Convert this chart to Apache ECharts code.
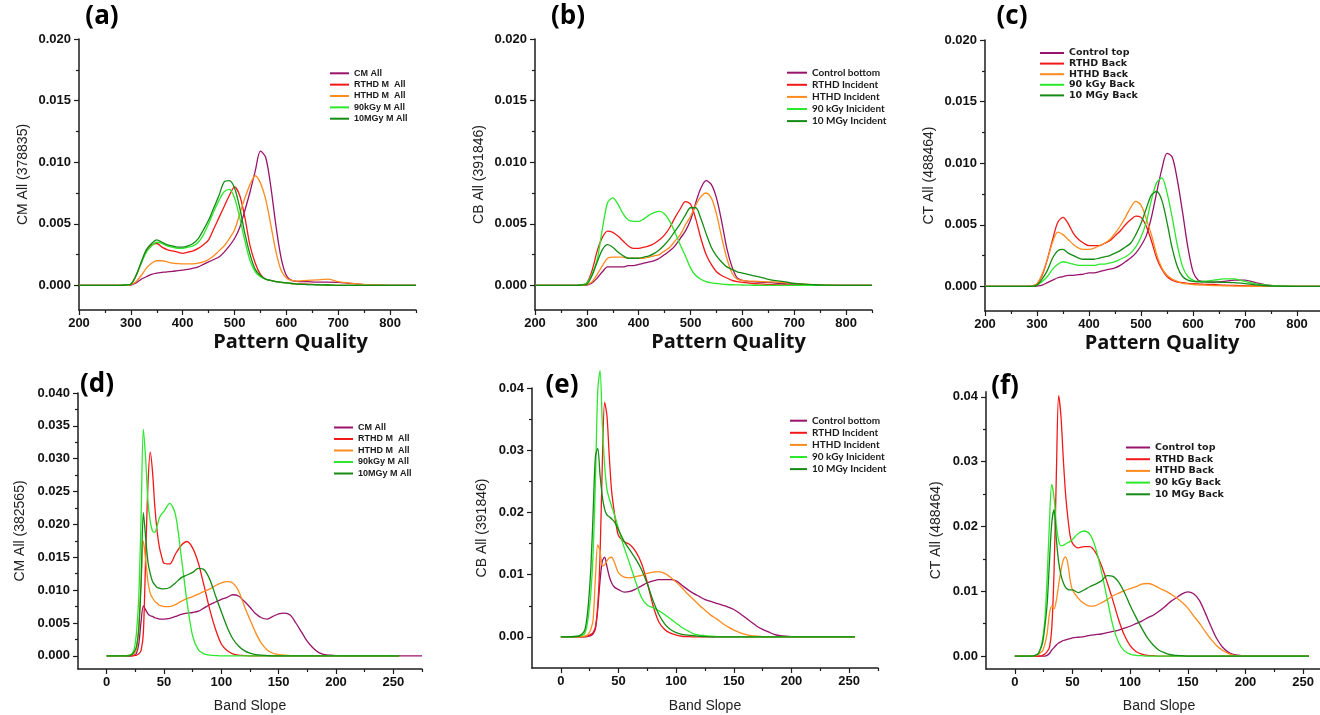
<!DOCTYPE html>
<html>
<head>
<meta charset="utf-8">
<script src="https://cdn.jsdelivr.net/npm/echarts@6/dist/echarts.min.js"></script>
<style>
  html, body { margin: 0; padding: 0; background: #ffffff; }
  #chart { width: 1320px; height: 715px; }
</style>
</head>
<body>
<div id="chart"></div>
<script>
// ---------- sampling grids (x values) ----------
const patternQuality = [
  200, 280, 290, 300, 310, 320, 330, 340, 350, 360,
  370, 380, 390, 400, 410, 420, 430, 440, 450, 460,
  470, 480, 490, 500, 510, 520, 530, 540, 550, 560,
  570, 580, 590, 600, 610, 620, 640, 660, 680, 700,
  720, 740, 760, 800, 850
];
const bandSlope = [
  0, 15, 20, 22, 24, 26, 28, 30, 32, 34,
  36, 38, 40, 42, 44, 46, 48, 50, 55, 60,
  65, 70, 75, 80, 85, 90, 95, 100, 105, 110,
  115, 120, 125, 130, 135, 140, 145, 150, 155, 160,
  165, 170, 175, 180, 185, 190, 195, 200, 210, 230,
  255, 275
];

// ---------- series names ----------
const namesCM = ['CM All', 'RTHD M  All', 'HTHD M  All', '90kGy M All', '10MGy M All'];
const namesCB = ['Control bottom', 'RTHD Incident', 'HTHD Incident', '90 kGy Inicident', '10 MGy Incident'];
const namesCT = ['Control top', 'RTHD Back', 'HTHD Back', '90 kGy Back', '10 MGy Back'];

// ---------- axis titles ----------
const yTitles = ['CM All (378835)', 'CB All (391846)', 'CT All (488464)',
                 'CM All (382565)', 'CB All (391846)', 'CT All (488464)'];
const panelLabels = ['(a)', '(b)', '(c)', '(d)', '(e)', '(f)'];

// ---------- tick values ----------
const pqTicks = [200, 300, 400, 500, 600, 700, 800];
const pqMinorTicks = [250, 350, 450, 550, 650, 750, 850];
const bsTicks = [0, 50, 100, 150, 200, 250];
const bsMinorTicks = [25, 75, 125, 175, 225, 275];
const yTicksPq = [0, 0.005, 0.01, 0.015, 0.02];
const yMinorPq = [0.0025, 0.0075, 0.0125, 0.0175];
const yTicksCmBs = [0, 0.005, 0.01, 0.015, 0.02, 0.025, 0.03, 0.035, 0.04];
const yMinorCmBs = [0.0025, 0.0075, 0.0125, 0.0175, 0.0225, 0.0275, 0.0325, 0.0375];
const yTicksBs = [0, 0.01, 0.02, 0.03, 0.04];
const yMinorBs = [0.005, 0.015, 0.025, 0.035];

// ---------- (a) CM, pattern quality ----------
const cmPqAll = [
  0, 0, 0, 0.00003, 0.0002, 0.0005, 0.0007, 0.0009, 0.001, 0.00105,
  0.0011, 0.00113, 0.0012, 0.00124, 0.0013, 0.0014, 0.0015, 0.0017, 0.0019, 0.0021,
  0.0023, 0.0027, 0.0032, 0.0038, 0.0047, 0.0061, 0.0076, 0.0093, 0.0109, 0.0104,
  0.008, 0.0048, 0.0022, 0.0008, 0.0004, 0.00033, 0.0003, 0.00027, 0.00027, 0.00025,
  0.00017, 0.0001, 0.00003, 0, 0
];
const cmPqRthd = [
  0, 0, 0.00003, 0.0001, 0.0008, 0.0018, 0.0028, 0.0033, 0.0034, 0.0031,
  0.0029, 0.0028, 0.0027, 0.0026, 0.0027, 0.0028, 0.003, 0.0033, 0.0037, 0.0046,
  0.0055, 0.0064, 0.0073, 0.008, 0.0073, 0.0055, 0.0032, 0.0018, 0.0009, 0.0005,
  0.0004, 0.0003, 0.00025, 0.0002, 0.00015, 0.00012, 0.0001, 0.00006, 0.00003, 0,
  0, 0, 0, 0, 0
];
const cmPqHthd = [
  0, 0, 0, 0.00005, 0.0003, 0.0008, 0.0014, 0.0018, 0.002, 0.002,
  0.0019, 0.0018, 0.00177, 0.00175, 0.00175, 0.00175, 0.0018, 0.0019, 0.0021, 0.0024,
  0.0028, 0.0032, 0.0038, 0.0045, 0.0058, 0.0071, 0.0082, 0.0089, 0.0083, 0.007,
  0.0049, 0.0027, 0.0012, 0.0006, 0.0004, 0.00035, 0.0004, 0.00045, 0.0005, 0.0003,
  0.0002, 0.0001, 0.00003, 0, 0
];
const cmPq90k = [
  0, 0, 0.00003, 0.0001, 0.0008, 0.0018, 0.0027, 0.0032, 0.0035, 0.0034,
  0.0032, 0.0031, 0.003, 0.003, 0.0031, 0.0032, 0.0035, 0.0041, 0.005, 0.006,
  0.0069, 0.0076, 0.0078, 0.0071, 0.0055, 0.0036, 0.002, 0.0011, 0.0007, 0.0005,
  0.0004, 0.0003, 0.00025, 0.0002, 0.00015, 0.0001, 0.00007, 0.00005, 0.00003, 0,
  0, 0, 0, 0, 0
];
const cmPq10M = [
  0, 0, 0.00003, 0.0001, 0.0008, 0.0019, 0.0029, 0.0034, 0.0037, 0.0035,
  0.0033, 0.0032, 0.0031, 0.0031, 0.0032, 0.0034, 0.0038, 0.0045, 0.0053, 0.0063,
  0.0073, 0.0084, 0.0085, 0.0079, 0.0063, 0.0042, 0.0025, 0.0013, 0.0008, 0.0005,
  0.0004, 0.0003, 0.00025, 0.0002, 0.00015, 0.0001, 0.00007, 0.00005, 0.00003, 0,
  0, 0, 0, 0, 0
];

// ---------- (b) CB, pattern quality ----------
const cbPqControl = [
  0, 0, 0, 0.00003, 0.0002, 0.0006, 0.0011, 0.0015, 0.0015, 0.0015,
  0.0015, 0.0016, 0.0016, 0.0017, 0.0018, 0.0019, 0.002, 0.0022, 0.0025, 0.0028,
  0.0032, 0.0038, 0.0044, 0.0053, 0.0067, 0.0079, 0.0085, 0.0082, 0.0071, 0.0052,
  0.003, 0.0015, 0.0006, 0.0004, 0.00033, 0.0003, 0.00025, 0.0002, 0.00013, 0.0001,
  0.00005, 0.00002, 0, 0, 0
];
const cbPqRthd = [
  0, 0, 0.00003, 0.0002, 0.0012, 0.0028, 0.0039, 0.0044, 0.0043, 0.004,
  0.0036, 0.0032, 0.003, 0.003, 0.0031, 0.0032, 0.0034, 0.0037, 0.0041, 0.0047,
  0.0055, 0.0062, 0.0068, 0.0066, 0.0054, 0.0038, 0.0025, 0.0017, 0.0011, 0.0008,
  0.0006, 0.0004, 0.0003, 0.00025, 0.0002, 0.00015, 0.0001, 0.00005, 0.00003, 0,
  0, 0, 0, 0, 0
];
const cbPqHthd = [
  0, 0, 0, 0.00005, 0.0003, 0.0009, 0.0016, 0.0022, 0.0023, 0.0023,
  0.0023, 0.0022, 0.0022, 0.0022, 0.0022, 0.0023, 0.0024, 0.0025, 0.0028, 0.0031,
  0.0036, 0.0041, 0.0049, 0.0056, 0.0065, 0.0072, 0.0075, 0.0071, 0.0058, 0.0039,
  0.0022, 0.001, 0.0005, 0.0004, 0.00035, 0.00035, 0.0003, 0.00028, 0.00022, 0.00015,
  0.0001, 0.00005, 0.00002, 0, 0
];
const cbPq90k = [
  0, 0, 0.00005, 0.0002, 0.0009, 0.0021, 0.0046, 0.0067, 0.0071, 0.0066,
  0.0058, 0.0053, 0.0052, 0.0052, 0.0054, 0.0057, 0.0059, 0.006, 0.0058, 0.0052,
  0.0043, 0.0033, 0.0024, 0.0014, 0.0008, 0.0005, 0.0003, 0.0002, 0.00015, 0.0001,
  0.00007, 0.00005, 0.00004, 0.00003, 0.00002, 0.00001, 0, 0, 0, 0,
  0, 0, 0, 0, 0
];
const cbPq10M = [
  0, 0, 0.00003, 0.0001, 0.0008, 0.0019, 0.0029, 0.0033, 0.0031, 0.0027,
  0.0024, 0.0022, 0.0022, 0.0022, 0.0023, 0.0024, 0.0026, 0.0029, 0.0033, 0.0038,
  0.0044, 0.005, 0.0057, 0.0063, 0.0063, 0.0054, 0.0042, 0.0031, 0.0024, 0.0019,
  0.0015, 0.0013, 0.0011, 0.001, 0.0009, 0.0008, 0.0006, 0.0004, 0.0003, 0.00015,
  0.0001, 0.00005, 0.00002, 0, 0
];

// ---------- (c) CT, pattern quality ----------
const ctPqControl = [
  0, 0, 0, 0.00003, 0.0001, 0.0003, 0.0005, 0.0007, 0.0008, 0.0009,
  0.0009, 0.00095, 0.001, 0.0011, 0.0011, 0.0012, 0.0013, 0.0014, 0.0015, 0.0017,
  0.002, 0.0023, 0.0027, 0.0033, 0.0041, 0.0056, 0.0076, 0.0095, 0.0108, 0.0105,
  0.0086, 0.006, 0.0032, 0.0012, 0.0005, 0.0004, 0.00035, 0.0004, 0.0005, 0.0005,
  0.0003, 0.00012, 0.00004, 0, 0
];
const ctPqRthd = [
  0, 0, 0.00003, 0.0002, 0.0009, 0.0022, 0.0038, 0.0052, 0.0056, 0.0051,
  0.0043, 0.0038, 0.0035, 0.0033, 0.0033, 0.0033, 0.0035, 0.0037, 0.0041, 0.0045,
  0.005, 0.0054, 0.0057, 0.0056, 0.0049, 0.0037, 0.0023, 0.0014, 0.0008, 0.0005,
  0.00035, 0.0003, 0.00025, 0.00022, 0.0002, 0.00018, 0.00015, 0.0001, 0.00008, 0.00005,
  0.00003, 0.00002, 0, 0, 0
];
const ctPqHthd = [
  0, 0, 0.00003, 0.0002, 0.001, 0.0022, 0.0036, 0.0044, 0.0042, 0.0038,
  0.0034, 0.0031, 0.003, 0.003, 0.0031, 0.0033, 0.0035, 0.0038, 0.0043, 0.0049,
  0.0056, 0.0064, 0.0069, 0.0066, 0.0055, 0.0042, 0.0026, 0.0015, 0.0009, 0.0006,
  0.0004, 0.00025, 0.0002, 0.00015, 0.00012, 0.0001, 0.00007, 0.00005, 0.00003, 0.00002,
  0, 0, 0, 0, 0
];
const ctPq90k = [
  0, 0, 0, 0.0001, 0.0004, 0.0008, 0.0014, 0.0018, 0.002, 0.0019,
  0.0018, 0.0017, 0.0017, 0.0017, 0.0017, 0.0018, 0.0018, 0.0019, 0.002, 0.0022,
  0.0024, 0.0027, 0.0032, 0.004, 0.0052, 0.007, 0.0084, 0.0088, 0.0076, 0.0056,
  0.0033, 0.0016, 0.0008, 0.0005, 0.0004, 0.0004, 0.0005, 0.0006, 0.0006, 0.0004,
  0.0002, 0.0001, 0.00003, 0, 0
];
const ctPq10M = [
  0, 0, 0, 0.0001, 0.0006, 0.0013, 0.0023, 0.0029, 0.003, 0.0027,
  0.0025, 0.0023, 0.0022, 0.0022, 0.0022, 0.0023, 0.0024, 0.0025, 0.0027, 0.0029,
  0.0032, 0.0035, 0.0042, 0.0051, 0.0063, 0.0074, 0.0077, 0.007, 0.0052, 0.0031,
  0.0016, 0.0008, 0.0005, 0.0004, 0.00037, 0.00035, 0.00035, 0.00033, 0.0003, 0.00022,
  0.00012, 0.00005, 0.00002, 0, 0
];

// ---------- (d) CM, band slope ----------
const cmBsAll = [
  0, 0, 0, 0, 0.0001, 0.0004, 0.0018, 0.0052, 0.0076, 0.007,
  0.0064, 0.0061, 0.006, 0.0058, 0.0057, 0.0056, 0.0056, 0.0056, 0.0057, 0.006,
  0.0063, 0.0065, 0.0066, 0.0068, 0.0073, 0.0078, 0.0082, 0.0086, 0.0089, 0.0093,
  0.0091, 0.0083, 0.0074, 0.0064, 0.0058, 0.0056, 0.006, 0.0064, 0.0065, 0.0062,
  0.005, 0.0036, 0.0022, 0.0012, 0.0005, 0.0002, 0.0001, 0.00003, 0, 0,
  0, 0
];
const cmBsRthd = [
  0, 0, 0, 0, 0.00005, 0.0001, 0.0003, 0.0008, 0.0035, 0.015,
  0.026, 0.031, 0.028, 0.0227, 0.019, 0.0165, 0.0151, 0.0141, 0.014, 0.0155,
  0.0168, 0.0174, 0.0164, 0.0141, 0.0106, 0.007, 0.004, 0.0018, 0.0008, 0.0003,
  0.0001, 0.00005, 0, 0, 0, 0, 0, 0, 0, 0,
  0, 0, 0, 0, 0, 0, 0, 0, 0, 0,
  0, null
];
const cmBsHthd = [
  0, 0, 0.0001, 0.0002, 0.0004, 0.0009, 0.0045, 0.011, 0.0175, 0.0146,
  0.0113, 0.0095, 0.0088, 0.0083, 0.008, 0.0077, 0.0076, 0.0075, 0.0075, 0.0078,
  0.0083, 0.0087, 0.009, 0.0094, 0.0098, 0.0102, 0.0107, 0.0111, 0.0113, 0.0111,
  0.0099, 0.0076, 0.0055, 0.0035, 0.0019, 0.0009, 0.0004, 0.0002, 0.0001, 0.00005,
  0, 0, 0, 0, 0, 0, 0, 0, 0, 0,
  0, null
];
const cmBs90k = [
  0, 0, 0.0001, 0.0003, 0.001, 0.0035, 0.009, 0.021, 0.0345, 0.03,
  0.0235, 0.0205, 0.019, 0.0188, 0.0198, 0.021, 0.0216, 0.022, 0.0232, 0.0215,
  0.0152, 0.0083, 0.003, 0.0009, 0.0003, 0.0001, 0.00005, 0, 0, 0,
  0, 0, 0, 0, 0, 0, 0, 0, 0, 0,
  0, 0, 0, 0, 0, 0, 0, 0, 0, 0,
  0, null
];
const cmBs10M = [
  0, 0, 0, 0.0002, 0.0006, 0.0014, 0.004, 0.011, 0.0218, 0.018,
  0.0143, 0.0125, 0.0113, 0.0108, 0.0104, 0.0103, 0.0102, 0.0102, 0.0104, 0.0111,
  0.0119, 0.0123, 0.0127, 0.0133, 0.0131, 0.0116, 0.0091, 0.0067, 0.0044, 0.0026,
  0.0015, 0.0008, 0.0004, 0.0002, 0.0001, 0.00005, 0, 0, 0, 0,
  0, 0, 0, 0, 0, 0, 0, 0, 0, 0,
  0, null
];

// ---------- (e) CB, band slope ----------
const cbBsControl = [
  0, 0, 0, 0, 0.0001, 0.0002, 0.0005, 0.0013, 0.0045, 0.009,
  0.0122, 0.0128, 0.0113, 0.0097, 0.0087, 0.0081, 0.0078, 0.0076, 0.0072, 0.0073,
  0.0077, 0.0082, 0.0087, 0.009, 0.0092, 0.0092, 0.0092, 0.009, 0.0083, 0.0076,
  0.007, 0.0065, 0.006, 0.0057, 0.0054, 0.0051, 0.0048, 0.0044, 0.0038, 0.0031,
  0.0024, 0.0017, 0.0012, 0.0008, 0.0004, 0.0002, 0.0001, 0.00005, 0, 0,
  0, null
];
const cbBsRthd = [
  0, 0, 0, 0.0001, 0.0002, 0.0004, 0.0007, 0.0016, 0.005, 0.013,
  0.028, 0.0377, 0.0355, 0.029, 0.0235, 0.0205, 0.018, 0.0163, 0.0153, 0.0148,
  0.0137, 0.0118, 0.0087, 0.005, 0.0024, 0.0012, 0.0006, 0.0003, 0.0001, 0.00005,
  0, 0, 0, 0, 0, 0, 0, 0, 0, 0,
  0, 0, 0, 0, 0, 0, 0, 0, 0, 0,
  0, null
];
const cbBsHthd = [
  0, 0, 0.0001, 0.0002, 0.0005, 0.0012, 0.0028, 0.0095, 0.0148, 0.0138,
  0.0114, 0.0116, 0.0122, 0.0127, 0.0128, 0.0122, 0.0112, 0.0103, 0.0096, 0.0095,
  0.0097, 0.0099, 0.0102, 0.0104, 0.0105, 0.0102, 0.0096, 0.0088, 0.0079, 0.0069,
  0.006, 0.0051, 0.0043, 0.0035, 0.0029, 0.0022, 0.0016, 0.0011, 0.0007, 0.0004,
  0.0002, 0.0001, 0.00005, 0, 0, 0, 0, 0, 0, 0,
  0, null
];
const cbBs90k = [
  0, 0.0001, 0.0004, 0.0012, 0.0035, 0.007, 0.0135, 0.025, 0.0395, 0.0428,
  0.034, 0.0275, 0.0237, 0.0222, 0.021, 0.0199, 0.0187, 0.0174, 0.0143, 0.0116,
  0.0088, 0.0063, 0.0051, 0.0047, 0.0042, 0.0036, 0.0029, 0.0022, 0.0015, 0.001,
  0.0005, 0.0003, 0.0002, 0.0001, 0.00005, 0, 0, 0, 0, 0,
  0, 0, 0, 0, 0, 0, 0, 0, 0, 0,
  0, null
];
const cbBs10M = [
  0, 0.0001, 0.0008, 0.0022, 0.0055, 0.011, 0.02, 0.029, 0.0303, 0.026,
  0.0225, 0.0205, 0.0196, 0.0193, 0.019, 0.0186, 0.018, 0.0172, 0.0153, 0.0139,
  0.0125, 0.0108, 0.0085, 0.0058, 0.0036, 0.0021, 0.0012, 0.0007, 0.0004, 0.0003,
  0.0002, 0.0001, 0.00005, 0, 0, 0, 0, 0, 0, 0,
  0, 0, 0, 0, 0, 0, 0, 0, 0, 0,
  0, null
];

// ---------- (f) CT, band slope ----------
const ctBsControl = [
  0, 0, 0, 0, 0, 0, 0.0001, 0.0004, 0.0009, 0.0013,
  0.0017, 0.002, 0.0022, 0.0024, 0.0025, 0.0026, 0.0027, 0.0028, 0.0029, 0.003,
  0.0032, 0.0033, 0.0034, 0.0036, 0.0038, 0.004, 0.0043, 0.0046, 0.005, 0.0054,
  0.0059, 0.0063, 0.0069, 0.0076, 0.0084, 0.009, 0.0096, 0.0099, 0.0096, 0.0086,
  0.0067, 0.0046, 0.0027, 0.0014, 0.0006, 0.0002, 0.0001, 0, 0, 0,
  0, null
];
const ctBsRthd = [
  0, 0, 0, 0, 0.0001, 0.0003, 0.0007, 0.0013, 0.0042, 0.013,
  0.028, 0.0402, 0.037, 0.0305, 0.025, 0.0213, 0.0185, 0.0174, 0.0167, 0.0169,
  0.0169, 0.016, 0.014, 0.0114, 0.0086, 0.0056, 0.0032, 0.0016, 0.0007, 0.0003,
  0.0001, 0.00005, 0, 0, 0, 0, 0, 0, 0, 0,
  0, 0, 0, 0, 0, 0, 0, 0, 0, 0,
  0, null
];
const ctBsHthd = [
  0, 0, 0.0002, 0.0005, 0.0008, 0.0018, 0.0035, 0.0065, 0.0077, 0.0073,
  0.0086, 0.011, 0.0132, 0.0148, 0.0153, 0.0142, 0.0117, 0.0102, 0.0089, 0.0081,
  0.0077, 0.0078, 0.0082, 0.0087, 0.0093, 0.0097, 0.0101, 0.0104, 0.0107, 0.0111,
  0.0112, 0.011, 0.0105, 0.0101, 0.0096, 0.009, 0.0083, 0.0074, 0.0062, 0.0051,
  0.0038, 0.0026, 0.0016, 0.0009, 0.0004, 0.0001, 0.00005, 0, 0, 0,
  0, null
];
const ctBs90k = [
  0, 0, 0.0003, 0.001, 0.0025, 0.0055, 0.012, 0.0205, 0.0265, 0.0245,
  0.0202, 0.0178, 0.017, 0.0171, 0.0173, 0.0175, 0.0177, 0.018, 0.0189, 0.0193,
  0.0188, 0.0167, 0.0131, 0.0089, 0.0047, 0.0021, 0.0008, 0.0003, 0.0001, 0.00005,
  0, 0, 0, 0, 0, 0, 0, 0, 0, 0,
  0, 0, 0, 0, 0, 0, 0, 0, 0, 0,
  0, null
];
const ctBs10M = [
  0, 0, 0.0003, 0.001, 0.002, 0.0045, 0.008, 0.0145, 0.0205, 0.0226,
  0.018, 0.0145, 0.0125, 0.0113, 0.0106, 0.0103, 0.0102, 0.0102, 0.0098, 0.0102,
  0.0107, 0.0111, 0.0116, 0.0124, 0.0123, 0.0114, 0.0098, 0.0078, 0.006, 0.0043,
  0.0028, 0.0017, 0.0009, 0.0005, 0.0002, 0.0001, 0.00005, 0, 0, 0,
  0, 0, 0, 0, 0, 0, 0, 0, 0, 0,
  0, null
];

// ---------- panel composition and layout ----------
const COLORS = ['#98136B', '#F31818', '#FF8B1E', '#2CE82C', '#148C14'];
const ARIAL = '"Liberation Sans", Arial, sans-serif';

const panels = [
  { xs: patternQuality, ys: [cmPqAll, cmPqRthd, cmPqHthd, cmPq90k, cmPq10M], names: namesCM,
    grid: { left: 79, top: 39, width: 337, height: 271 }, xRange: [200, 850], yRange: [-0.002, 0.02],
    xTicks: pqTicks, xMinor: pqMinorTicks, yTicks: yTicksPq, yMinor: yMinorPq, digits: 3,
    xName: 'Pattern Quality', xBold: true, xShift: 43, xGap: 22, yGap: 49,
    legend: { left: 330, top: 67.8, w: 19, lh: 11, gap: 0.35, font: ARIAL, size: 9 },
    labelPos: [102, 17] },
  { xs: patternQuality, ys: [cbPqControl, cbPqRthd, cbPqHthd, cbPq90k, cbPq10M], names: namesCB,
    grid: { left: 535, top: 39, width: 337, height: 271 }, xRange: [200, 850], yRange: [-0.002, 0.02],
    xTicks: pqTicks, xMinor: pqMinorTicks, yTicks: yTicksPq, yMinor: yMinorPq, digits: 3,
    xName: 'Pattern Quality', xBold: true, xShift: 25, xGap: 22, yGap: 49,
    legend: { left: 787, top: 66.7, w: 20, lh: 12, gap: 0.1, font: 'Lato, sans-serif', size: 10 },
    labelPos: [568, 17] },
  { xs: patternQuality, ys: [ctPqControl, ctPqRthd, ctPqHthd, ctPq90k, ctPq10M], names: namesCT,
    grid: { left: 985, top: 40, width: 338, height: 271 }, xRange: [200, 850], yRange: [-0.002, 0.02],
    xTicks: pqTicks, xMinor: pqMinorTicks, yTicks: yTicksPq, yMinor: yMinorPq, digits: 3,
    xName: 'Pattern Quality', xBold: true, xShift: 8, xGap: 22, yGap: 49,
    legend: { left: 1040, top: 48, w: 24, lh: 10, gap: 0.6, font: '"DejaVu Sans", sans-serif', size: 9.5 },
    labelPos: [1012, 17] },
  { xs: bandSlope, ys: [cmBsAll, cmBsRthd, cmBsHthd, cmBs90k, cmBs10M], names: namesCM,
    grid: { left: 78, top: 393, width: 344, height: 276 }, xRange: [-25, 275], yRange: [-0.002, 0.04],
    xTicks: bsTicks, xMinor: bsMinorTicks, yTicks: yTicksCmBs, yMinor: yMinorCmBs, digits: 3,
    xName: 'Band Slope', xBold: false, xShift: 0, xGap: 30, yGap: 51,
    legend: { left: 334, top: 422, w: 19, lh: 11, gap: 0.5, font: ARIAL, size: 9 },
    labelPos: [97, 385] },
  { xs: bandSlope, ys: [cbBsControl, cbBsRthd, cbBsHthd, cbBs90k, cbBs10M], names: namesCB,
    grid: { left: 532, top: 388, width: 346, height: 280 }, xRange: [-25, 275], yRange: [-0.005, 0.04],
    xTicks: bsTicks, xMinor: bsMinorTicks, yTicks: yTicksBs, yMinor: yMinorBs, digits: 2,
    xName: 'Band Slope', xBold: false, xShift: 0, xGap: 31, yGap: 43,
    legend: { left: 790, top: 414.7, w: 17, lh: 12, gap: 0.1, font: 'Lato, sans-serif', size: 10 },
    labelPos: [562, 386] },
  { xs: bandSlope, ys: [ctBsControl, ctBsRthd, ctBsHthd, ctBs90k, ctBs10M], names: namesCT,
    grid: { left: 986, top: 391.7, width: 346, height: 277.3 }, xRange: [-25, 275], yRange: [-0.002, 0.0408],
    xTicks: bsTicks, xMinor: bsMinorTicks, yTicks: yTicksBs, yMinor: yMinorBs, digits: 2,
    xName: 'Band Slope', xBold: false, xShift: 0, xGap: 30, yGap: 43,
    legend: { left: 1126, top: 442, w: 24, lh: 11, gap: 0.7, font: '"DejaVu Sans", sans-serif', size: 9.5 },
    labelPos: [1005, 387] }
];

const AXIS_COLOR = '#1c1c1c';
const grids = [], xAxes = [], yAxes = [], series = [], legends = [], graphics = [];

panels.forEach((p, i) => {
  grids.push(Object.assign({ containLabel: false, outerBoundsMode: 'none' }, p.grid));

  // main x axis: line, major ticks, labels, title
  xAxes.push({
    type: 'value', gridIndex: i, position: 'bottom', min: p.xRange[0], max: p.xRange[1],
    axisLine: { show: true, onZero: false, lineStyle: { color: AXIS_COLOR, width: 1.5 } },
    axisTick: { show: true, length: 5, customValues: p.xTicks, lineStyle: { color: AXIS_COLOR, width: 1.2 } },
    axisLabel: { customValues: p.xTicks, margin: 7, color: '#111', fontFamily: ARIAL,
                 fontWeight: 'bold', fontSize: 13 },
    splitLine: { show: false },
    name: p.xName, nameLocation: 'middle', nameGap: p.xGap,
    nameTextStyle: p.xBold
      ? { fontFamily: '"Open Sans", sans-serif', fontWeight: 'bold', fontSize: 20, color: '#111',
          padding: [0, 0, 0, 2 * p.xShift] }
      : { fontFamily: ARIAL, fontSize: 14, color: '#222' }
  });
  // companion x axis carrying the short minor ticks
  xAxes.push({
    type: 'value', gridIndex: i, position: 'bottom', min: p.xRange[0], max: p.xRange[1],
    axisLine: { show: false, onZero: false },
    axisTick: { show: true, length: 3, customValues: p.xMinor, lineStyle: { color: AXIS_COLOR, width: 1.2 } },
    axisLabel: { show: false }, splitLine: { show: false }
  });

  yAxes.push({
    type: 'value', gridIndex: i, position: 'left', min: p.yRange[0], max: p.yRange[1],
    axisLine: { show: true, onZero: false, lineStyle: { color: AXIS_COLOR, width: 1.5 } },
    axisTick: { show: true, length: 5, customValues: p.yTicks, lineStyle: { color: AXIS_COLOR, width: 1.2 } },
    axisLabel: { customValues: p.yTicks, margin: 8, color: '#111', fontFamily: ARIAL,
                 fontWeight: 'bold', fontSize: 13,
                 formatter: (v) => Number(v).toFixed(p.digits) },
    splitLine: { show: false },
    name: yTitles[i], nameLocation: 'middle', nameGap: p.yGap,
    nameTextStyle: { fontFamily: ARIAL, fontSize: 14, color: '#222' }
  });
  // companion y axis carrying the short minor ticks
  yAxes.push({
    type: 'value', gridIndex: i, position: 'left', min: p.yRange[0], max: p.yRange[1],
    axisLine: { show: false, onZero: false },
    axisTick: { show: true, length: 3, customValues: p.yMinor, lineStyle: { color: AXIS_COLOR, width: 1.2 } },
    axisLabel: { show: false }, splitLine: { show: false }
  });

  p.ys.forEach((ys, k) => {
    series.push({
      type: 'line', name: p.names[k], xAxisIndex: 2 * i, yAxisIndex: 2 * i,
      data: p.xs.map((x, j) => [x, ys[j]]),
      showSymbol: false, symbol: 'none', smooth: 0.3, clip: false, silent: true,
      color: COLORS[k],
      lineStyle: { color: COLORS[k], width: 1.3 },
      z: 2 + k
    });
  });

  const L = p.legend;
  legends.push({
    orient: 'vertical', left: L.left, top: L.top, padding: 0,
    itemGap: L.gap, itemWidth: L.w, itemHeight: 2, icon: 'rect',
    selectedMode: false, data: p.names,
    textStyle: { fontFamily: L.font, fontWeight: 'bold', fontSize: L.size, lineHeight: L.lh, color: '#1a1a1a' }
  });

  graphics.push({
    type: 'text', x: p.labelPos[0], y: p.labelPos[1], z: 100,
    style: { text: panelLabels[i], font: 'bold 26px "Open Sans", sans-serif', fill: '#000',
             textAlign: 'center', textVerticalAlign: 'middle' }
  });
});

const chart = echarts.init(document.getElementById('chart'), null, { renderer: 'canvas', width: 1320, height: 715 });
chart.setOption({
  backgroundColor: '#ffffff',
  animation: false,
  grid: grids,
  xAxis: xAxes,
  yAxis: yAxes,
  legend: legends,
  series: series,
  graphic: graphics
});
</script>
</body>
</html>
